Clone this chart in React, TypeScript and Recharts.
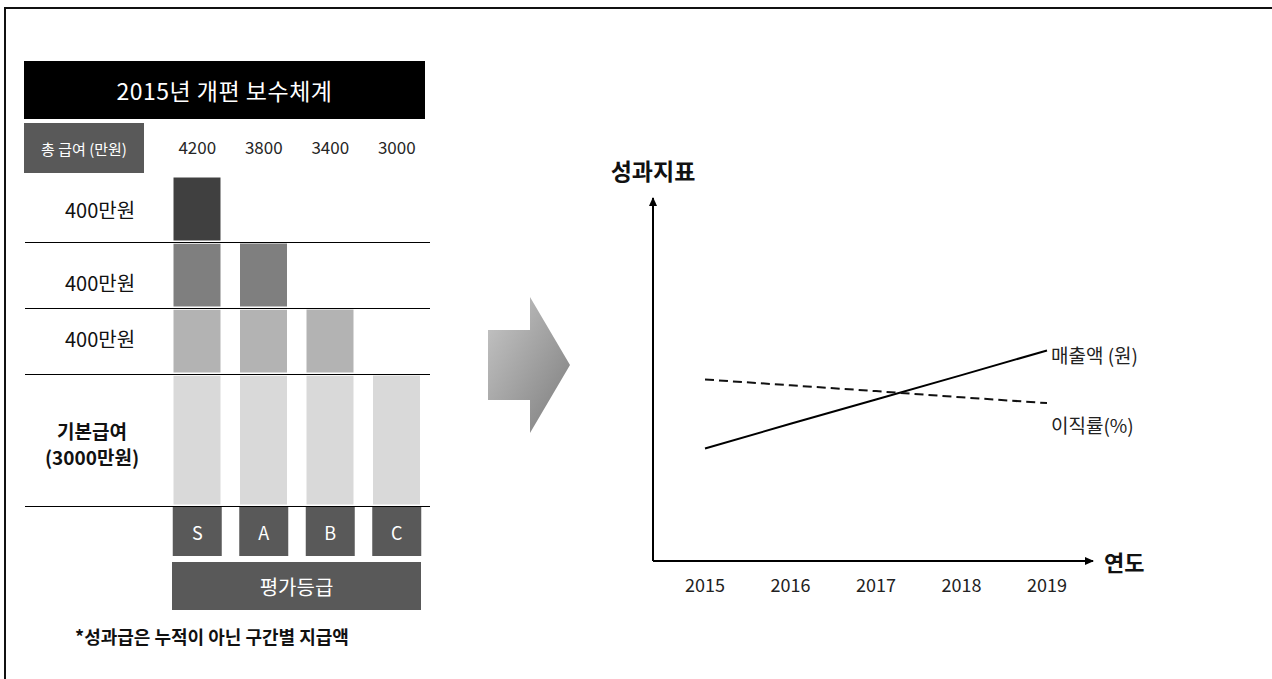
import React from "react";
import {
  Bar,
  BarChart,
  LabelList,
  Line,
  LineChart,
  ReferenceLine,
  XAxis,
  YAxis,
} from "recharts";

const FONT = '"Noto Sans CJK KR", "Noto Sans", sans-serif';

// 보수체계 (만원)
const grades = ["S", "A", "B", "C"];
const totalPay = [4200, 3800, 3400, 3000];
const basePay = [3000, 3000, 3000, 3000];
const bonusStep1 = [400, 400, 400, 0];
const bonusStep2 = [400, 400, 0, 0];
const bonusStep3 = [400, 0, 0, 0];
const tierLines = [3800, 3400, 3000];

// 성과지표 (상대값)
const years = ["2015", "2016", "2017", "2018", "2019"];
const sales = [31, 37.8, 44.5, 51.2, 58];
const turnover = [50, 48.4, 46.8, 45.1, 43.5];

const payData = grades.map((grade, i) => ({
  grade,
  total: totalPay[i],
  base: basePay[i],
  b1: bonusStep1[i],
  b2: bonusStep2[i],
  b3: bonusStep3[i],
}));

const kpiData = years.map((year, i) => ({
  year,
  sales: sales[i],
  turnover: turnover[i],
}));

function GradeTick({ x, y, payload }: any) {
  return (
    <g>
      <rect x={x - 24.5} y={y} width={49} height={49} fill="#595959" />
      <text
        x={x}
        y={y + 25}
        textAnchor="middle"
        dominantBaseline="central"
        fill="#fff"
        fontSize={18}
        fontFamily={FONT}
      >
        {payload.value}
      </text>
    </g>
  );
}

const endLabel = (text: string, dy: number) => (props: any) => {
  if (props.index !== years.length - 1) return null;
  return (
    <text
      x={props.x + 4}
      y={props.y + dy}
      dominantBaseline="central"
      fontSize={19}
      fill="#222"
      fontFamily={FONT}
    >
      {text}
    </text>
  );
};

const abs = (style: React.CSSProperties): React.CSSProperties => ({
  position: "absolute",
  fontFamily: FONT,
  ...style,
});

export default function App() {
  return (
    <div
      style={{
        position: "absolute",
        left: 0,
        top: 0,
        width: 1272,
        height: 679,
        background: "#fff",
        overflow: "hidden",
      }}
    >
      <svg width={0} height={0} style={{ position: "absolute" }}>
        <defs>
          <marker
            id="axisArrow"
            markerUnits="userSpaceOnUse"
            markerWidth={9}
            markerHeight={8}
            viewBox="0 0 9 8"
            refX={8}
            refY={4}
            orient="auto-start-reverse"
          >
            <path d="M0,0 L9,4 L0,8 z" fill="#000" />
          </marker>
          <linearGradient id="arrowFill" x1="0" y1="0" x2="1" y2="1">
            <stop offset="0%" stopColor="#c8c8c8" />
            <stop offset="100%" stopColor="#7c7c7c" />
          </linearGradient>
        </defs>
      </svg>

      {/* frame */}
      <div
        style={{
          position: "absolute",
          left: 4,
          top: 7,
          width: 1280,
          height: 700,
          borderTop: "2px solid #111",
          borderLeft: "2px solid #111",
        }}
      />

      {/* left table */}
      <div
        style={abs({
          left: 24,
          top: 61,
          width: 401,
          height: 58,
          background: "#000",
          color: "#fff",
          fontSize: 23,
          letterSpacing: 0.5,
          display: "flex",
          alignItems: "center",
          justifyContent: "center",
        })}
      >
        2015년 개편 보수체계
      </div>
      <div
        style={abs({
          left: 24,
          top: 123,
          width: 120,
          height: 50,
          background: "#595959",
          color: "#fff",
          fontSize: 15,
          display: "flex",
          alignItems: "center",
          justifyContent: "center",
        })}
      >
        총 급여 (만원)
      </div>
      {[210, 283, 339].map((y) => (
        <div
          key={y}
          style={abs({
            left: 40,
            width: 120,
            top: y - 15,
            height: 30,
            lineHeight: "30px",
            textAlign: "center",
            fontSize: 20,
            color: "#111",
          })}
        >
          400만원
        </div>
      ))}
      <div
        style={abs({
          left: 32,
          width: 120,
          top: 418,
          textAlign: "center",
          fontSize: 19,
          lineHeight: "26px",
          fontWeight: 700,
          color: "#111",
        })}
      >
        기본급여
        <br />
        (3000만원)
      </div>

      <div style={{ position: "absolute", left: 0, top: 100 }}>
        <BarChart
          width={440}
          height={470}
          data={payData}
          margin={{ top: 36, right: 10, bottom: 9, left: 25 }}
        >
          <XAxis
            xAxisId="top"
            orientation="top"
            dataKey="total"
            height={40}
            padding={{ left: 139, right: 0 }}
            axisLine={false}
            tickLine={false}
            tickSize={0}
            tickMargin={22}
            interval={0}
            tick={{ fontSize: 17, fill: "#262626", fontFamily: FONT }}
          />
          <XAxis
            dataKey="grade"
            height={55}
            padding={{ left: 139, right: 0 }}
            axisLine={{ stroke: "#000", strokeWidth: 1, shapeRendering: "crispEdges" }}
            tickLine={false}
            tickSize={0}
            tickMargin={1}
            interval={0}
            tick={<GradeTick />}
          />
          <YAxis hide domain={[2200, 4200]} allowDataOverflow />
          <Bar dataKey="base" stackId="pay" fill="#d9d9d9" stroke="#fff" strokeWidth={3} barSize={50} isAnimationActive={false} />
          <Bar dataKey="b1" stackId="pay" fill="#b3b3b3" stroke="#fff" strokeWidth={3} barSize={50} isAnimationActive={false} />
          <Bar dataKey="b2" stackId="pay" fill="#7f7f7f" stroke="#fff" strokeWidth={3} barSize={50} isAnimationActive={false} />
          <Bar dataKey="b3" stackId="pay" fill="#404040" stroke="#fff" strokeWidth={3} barSize={50} isAnimationActive={false} />
          {tierLines.map((v) => (
            <ReferenceLine
              key={v}
              y={v}
              stroke="#000"
              strokeWidth={1}
              shapeRendering="crispEdges"
            />
          ))}
        </BarChart>
      </div>

      <div
        style={abs({
          left: 172,
          top: 562,
          width: 249,
          height: 48,
          background: "#595959",
          color: "#fff",
          fontSize: 20,
          display: "flex",
          alignItems: "center",
          justifyContent: "center",
        })}
      >
        평가등급
      </div>
      <div
        style={abs({
          left: 75,
          top: 623,
          fontSize: 18,
          fontWeight: 700,
          color: "#111",
          whiteSpace: "nowrap",
        })}
      >
        *성과급은 누적이 아닌 구간별 지급액
      </div>

      {/* arrow */}
      <svg
        width={100}
        height={150}
        style={{ position: "absolute", left: 480, top: 290 }}
      >
        <polygon
          points="8,40 50,40 50,7 90,75 50,143 50,110 8,110"
          fill="url(#arrowFill)"
        />
      </svg>

      {/* right chart */}
      <div
        style={abs({
          left: 593,
          top: 153,
          width: 120,
          textAlign: "center",
          fontSize: 23,
          fontWeight: 700,
          color: "#111",
        })}
      >
        성과지표
      </div>
      <div
        style={abs({
          left: 1104,
          top: 545,
          fontSize: 22,
          fontWeight: 700,
          color: "#111",
        })}
      >
        연도
      </div>
      <div style={{ position: "absolute", left: 600, top: 180 }}>
        <LineChart
          width={620}
          height={440}
          data={kpiData}
          margin={{ top: 18, right: 127, bottom: 19, left: 52 }}
        >
          <XAxis
            dataKey="year"
            height={40}
            padding={{ left: 52, right: 46 }}
            axisLine={{ stroke: "#000", strokeWidth: 2, markerEnd: "url(#axisArrow)" }}
            tickLine={false}
            tickSize={0}
            tickMargin={18}
            interval={0}
            tick={{ fontSize: 18, fill: "#222", fontFamily: FONT }}
          />
          <YAxis
            width={1}
            domain={[0, 100]}
            tick={false}
            tickLine={false}
            axisLine={{ stroke: "#000", strokeWidth: 2, markerStart: "url(#axisArrow)" }}
          />
          <Line
            type="linear"
            dataKey="sales"
            stroke="#000"
            strokeWidth={2}
            dot={false}
            isAnimationActive={false}
          >
            <LabelList dataKey="sales" content={endLabel("매출액 (원)", 4)} />
          </Line>
          <Line
            type="linear"
            dataKey="turnover"
            stroke="#111"
            strokeWidth={2}
            strokeDasharray="9 5"
            dot={false}
            isAnimationActive={false}
          >
            <LabelList dataKey="turnover" content={endLabel("이직률(%)", 21)} />
          </Line>
        </LineChart>
      </div>
    </div>
  );
}
